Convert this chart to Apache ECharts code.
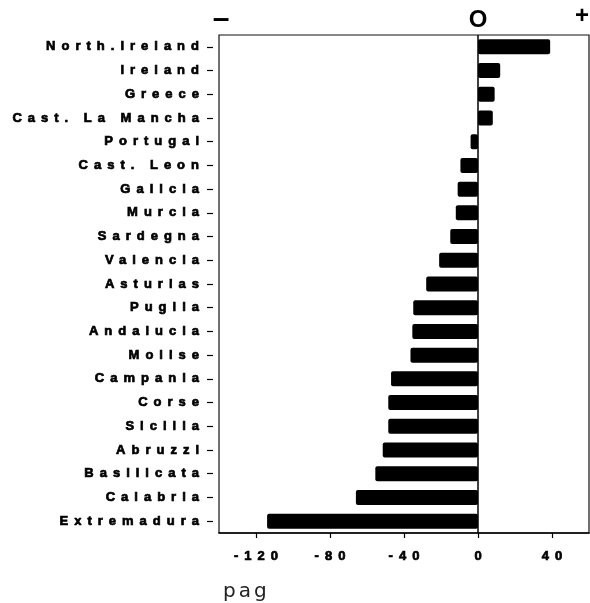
<!DOCTYPE html>
<html>
<head>
<meta charset="utf-8">
<script src="https://cdn.jsdelivr.net/npm/echarts@6/dist/echarts.min.js"></script>
<style>
  html, body { margin: 0; padding: 0; background: #fff; }
  #chart { width: 590px; height: 603px; }
</style>
</head>
<body>
<div id="chart"></div>
<script>
// Regions, listed top to bottom
const regions = [
  'North.Ireland', 'Ireland', 'Greece', 'Cast. La Mancha', 'Portugal',
  'Cast. Leon', 'Galicia', 'Murcia', 'Sardegna', 'Valencia', 'Asturias',
  'Puglia', 'Andalucia', 'Molise', 'Campania', 'Corse', 'Sicilia',
  'Abruzzi', 'Basilicata', 'Calabria', 'Extremadura'
];

// pag value for each region
const pagValues = [
  39, 12, 9, 8, -4,
  -9.5, -11, -12, -15, -21, -28,
  -35, -35.5, -36.5, -47, -48.5, -48.5,
  -51.5, -55.5, -66, -114
];

// Labelled ticks on the value axis
const xTickValues = [-120, -80, -40, 0, 40];

// Sign markers above the plot
const signMarks = ['\u2013', 'O', '+'];

// Wide letter tracking for the axis text (canvas letterSpacing), keeping
// the right / centre anchors where the axis puts them.
const TRACKING = { 'Liberation Sans': 6, 'DejaVu Sans': 3 };
function tracked(base) {
  return function (text, x, y, maxWidth) {
    let spacing = 0;
    for (const fam in TRACKING) {
      if (this.font.indexOf(fam) !== -1) { spacing = TRACKING[fam]; break; }
    }
    if (!spacing || !('letterSpacing' in this)) {
      return maxWidth === undefined ? base.call(this, text, x, y)
                                    : base.call(this, text, x, y, maxWidth);
    }
    const prev = this.letterSpacing;
    this.letterSpacing = spacing + 'px';
    let dx = 0;
    if (this.textAlign === 'right' || this.textAlign === 'end') dx = spacing;
    else if (this.textAlign === 'center') dx = spacing / 2;
    if (maxWidth === undefined) base.call(this, text, x + dx, y);
    else base.call(this, text, x + dx, y, maxWidth);
    this.letterSpacing = prev;
  };
}
const ctxProto = CanvasRenderingContext2D.prototype;
ctxProto.fillText = tracked(ctxProto.fillText);
ctxProto.strokeText = tracked(ctxProto.strokeText);

const labelFont = {
  fontFamily: 'Liberation Sans',
  fontWeight: 'bold',
  fontSize: 13,
  color: '#000',
  textBorderColor: '#000',
  textBorderWidth: 0.7
};

const chart = echarts.init(document.getElementById('chart'), null, { renderer: 'canvas' });

chart.setOption({
  animation: false,
  backgroundColor: '#fff',
  grid: {
    left: 219,
    width: 370,
    top: 35,
    bottom: 70,
    show: true,
    borderColor: '#111',
    borderWidth: 1.2,
    containLabel: false
  },
  xAxis: {
    type: 'value',
    min: -140,
    max: 60,
    axisLine: { show: true, onZero: false, lineStyle: { color: '#000', width: 1.5 } },
    axisTick: {
      show: true,
      length: 5,
      customValues: xTickValues,
      lineStyle: { color: '#000', width: 1.2 }
    },
    axisLabel: Object.assign({ customValues: xTickValues, margin: 17 }, labelFont),
    splitLine: { show: false }
  },
  yAxis: {
    type: 'category',
    data: regions,
    inverse: true,
    offset: 6,
    axisLine: { show: false, onZero: false },
    axisTick: {
      show: true,
      length: 6,
      alignWithLabel: true,
      lineStyle: { color: '#000', width: 1.2 }
    },
    axisLabel: Object.assign({ margin: 14, interval: 0 }, labelFont),
    splitLine: { show: false }
  },
  series: [{
    type: 'bar',
    data: pagValues,
    barWidth: 15,
    itemStyle: { color: '#000', borderRadius: 2 },
    markLine: {
      silent: true,
      symbol: 'none',
      label: { show: false },
      lineStyle: { color: '#000', width: 1.5, type: 'solid' },
      data: [{ xAxis: 0 }]
    }
  }],
  graphic: [
    {
      type: 'text', x: 221, y: 20,
      style: { text: signMarks[0], font: 'bold 30px Arial', fill: '#000', align: 'center', verticalAlign: 'middle' }
    },
    {
      type: 'text', x: 478, y: 20,
      style: { text: signMarks[1], font: 'bold 24px Arial', fill: '#000', align: 'center', verticalAlign: 'middle' }
    },
    {
      type: 'text', x: 582, y: 16,
      style: { text: signMarks[2], font: 'bold 24px Arial', fill: '#000', align: 'center', verticalAlign: 'middle' }
    },
    {
      type: 'text', x: 223, y: 592,
      style: { text: 'pag', font: '20px DejaVu Sans', fill: '#222', align: 'left', verticalAlign: 'middle' }
    }
  ]
});
</script>
</body>
</html>
